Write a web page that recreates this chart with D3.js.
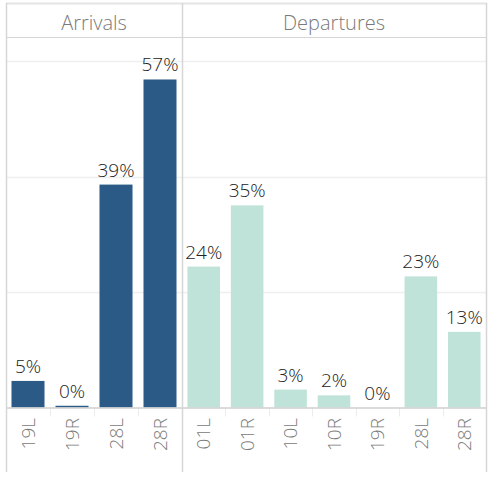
<!DOCTYPE html>
<html>
<head>
<meta charset="utf-8">
<script src="https://cdn.jsdelivr.net/npm/d3@7"></script>
<style>
  html, body { margin: 0; padding: 0; background: #fff; }
  svg { display: block; font-family: "Open Sans", "Noto Sans", sans-serif; font-weight: 300; }
</style>
</head>
<body>
<svg id="chart" width="492" height="477"></svg>
<script>
// Share of runway use, split by operation type
const panelTitles = ["Arrivals", "Departures"];
const arrRunways = ["19L", "19R", "28L", "28R"];
const arrShare = [0.046, 0.003, 0.386, 0.568];
const depRunways = ["01L", "01R", "10L", "10R", "19R", "28L", "28R"];
const depShare = [0.244, 0.350, 0.031, 0.021, 0.000, 0.227, 0.131];
const gridTicks = [0.2, 0.4, 0.6];

const panelColors = ["#2b5a87", "#bfe3d8"];

const svg = d3.select("#chart");
const frameLeft = 6, frameSplit = 182, frameRight = 486;
const frameTop = 3, headerBottom = 37, baseY = 407.5, frameBottom = 472;

const y = d3.scaleLinear().domain([0, 0.6]).range([baseY, 61]);
const fmt = d3.format(".0%");

const panels = [
  { title: panelTitles[0], cats: arrRunways, vals: arrShare, x0: frameLeft, x1: frameSplit, color: panelColors[0] },
  { title: panelTitles[1], cats: depRunways, vals: depShare, x0: frameSplit, x1: frameRight, color: panelColors[1] }
];

// gridlines across both panels
svg.append("g").selectAll("line").data(gridTicks).join("line")
  .attr("x1", frameLeft).attr("x2", frameRight)
  .attr("y1", d => Math.round(y(d)) + 0.5).attr("y2", d => Math.round(y(d)) + 0.5)
  .attr("stroke", "#efefef").attr("stroke-width", 1.5);

panels.forEach(p => {
  const x = d3.scaleBand().domain(p.cats).range([p.x0, p.x1])
    .paddingInner(0.25).paddingOuter(0.125);
  const g = svg.append("g");
  const rows = p.cats.map((c, i) => ({ c, v: p.vals[i] }));

  // header title
  g.append("text")
    .attr("x", (p.x0 + p.x1) / 2).attr("y", 30)
    .attr("text-anchor", "middle")
    .attr("font-size", 20).attr("fill", "#7a7a7a")
    .text(p.title);

  // bars
  g.selectAll("rect.bar").data(rows).join("rect").attr("class", "bar")
    .attr("x", d => x(d.c)).attr("width", x.bandwidth())
    .attr("y", d => y(d.v)).attr("height", d => baseY - y(d.v))
    .attr("fill", p.color);

  // value labels
  g.selectAll("text.val").data(rows).join("text").attr("class", "val")
    .attr("x", d => x(d.c) + x.bandwidth() / 2)
    .attr("y", d => y(d.v) - 8)
    .attr("text-anchor", "middle")
    .attr("font-size", 19).attr("fill", "#222")
    .text(d => fmt(d.v));

  // category separators under the baseline
  const bounds = p.cats.slice(1).map(c => x(c) - x.step() * x.paddingInner() / 2);
  g.selectAll("line.sep").data(bounds).join("line").attr("class", "sep")
    .attr("x1", d => Math.round(d) + 0.5).attr("x2", d => Math.round(d) + 0.5)
    .attr("y1", baseY).attr("y2", baseY + 9)
    .attr("stroke", "#ececec").attr("stroke-width", 1);

  // rotated category labels
  g.selectAll("text.cat").data(p.cats).join("text").attr("class", "cat")
    .attr("transform", d => `translate(${x(d) + x.bandwidth() / 2},418) rotate(-90)`)
    .attr("text-anchor", "end").attr("dy", "0.35em")
    .attr("font-size", 19).attr("fill", "#7a7a7a")
    .text(d => d);
});

// frame: top, header divider, baseline, left/split/right rules
const frame = svg.append("g").attr("stroke", "#d6d6d6").attr("fill", "none");
frame.append("line").attr("x1", frameLeft).attr("x2", frameRight + 1)
  .attr("y1", frameTop + 0.5).attr("y2", frameTop + 0.5)
  .attr("stroke", "#e4e4e4").attr("stroke-width", 2);
frame.append("line").attr("x1", frameLeft).attr("x2", frameRight)
  .attr("y1", headerBottom + 0.5).attr("y2", headerBottom + 0.5);
frame.append("line").attr("x1", frameLeft).attr("x2", frameRight)
  .attr("y1", baseY + 0.5).attr("y2", baseY + 0.5)
  .attr("stroke", "#cfcfcf").attr("stroke-width", 1.5);
[frameLeft, frameSplit, frameRight].forEach(xv => {
  frame.append("line").attr("x1", xv + 0.5).attr("x2", xv + 0.5)
    .attr("y1", frameTop).attr("y2", frameBottom).attr("stroke-width", 1.5);
});
</script>
</body>
</html>
